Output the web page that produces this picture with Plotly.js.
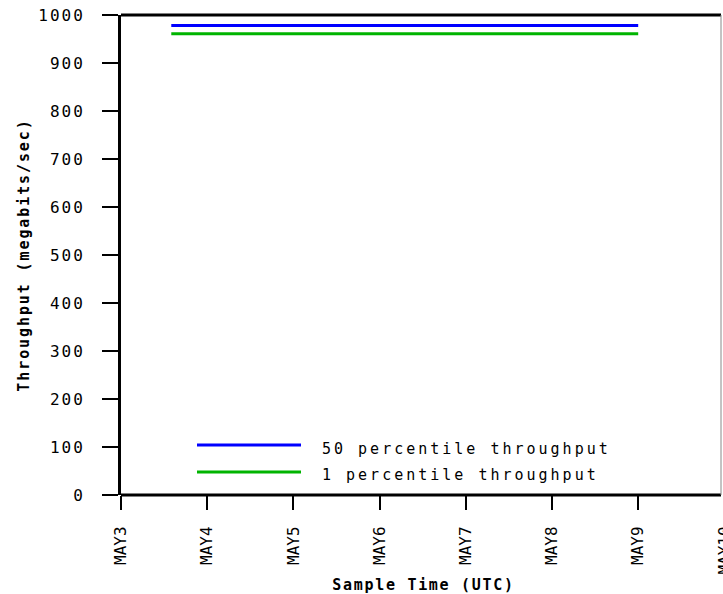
<!DOCTYPE html>
<html>
<head>
<meta charset="utf-8">
<script src="https://cdn.plot.ly/plotly-3.0.1.min.js"></script>
<style>
  html, body { margin: 0; padding: 0; background: #fff; overflow: hidden; }
  #wrap { width: 723px; height: 594px; overflow: hidden; }
  #chart { width: 726px; height: 594px; }
  .ytick text { letter-spacing: 2px; }
  text.xtitle { letter-spacing: 1.7px; }
  text.ytitle { letter-spacing: 1.9px; }
  .annotation-text { letter-spacing: 3px; }
</style>
</head>
<body>
<div id="wrap"><div id="chart"></div></div>
<script>
// ---- data ----
const seriesNames = ["50 percentile throughput", "1 percentile throughput"];
const seriesColors = ["#0000ff", "#00b400"];
const timeStamps = ["2009-05-03 14:00", "2009-05-09 00:00"];
const p50Values = [978, 978];
const p1Values = [961, 961];
const xTickDates = ["2009-05-03", "2009-05-04", "2009-05-05", "2009-05-06",
                    "2009-05-07", "2009-05-08", "2009-05-09", "2009-05-10"];
const xTickLabels = ["MAY3", "MAY4", "MAY5", "MAY6", "MAY7", "MAY8", "MAY9", "MAY10"];
const yTickValues = [0, 100, 200, 300, 400, 500, 600, 700, 800, 900, 1000];

// ---- layout helpers ----
const W = 726, H = 594;
const M = { l: 121, r: 0, t: 15, b: 99 };
const pw = W - M.l - M.r, ph = H - M.t - M.b;
const px2x = px => (px - M.l) / pw;
const px2y = py => (H - M.b - py) / ph;
const rightEdge = px2x(721);

const mono = "DejaVu Sans Mono, Liberation Mono, monospace";

const traces = [
  { x: timeStamps, y: p50Values, name: seriesNames[0], type: "scatter", mode: "lines",
    line: { color: seriesColors[0], width: 3 }, hoverinfo: "skip" },
  { x: timeStamps, y: p1Values, name: seriesNames[1], type: "scatter", mode: "lines",
    line: { color: seriesColors[1], width: 3 }, hoverinfo: "skip" }
];

const legendRows = [445, 472];
const legendTextRows = [449, 475];
const shapes = [
  // top border
  { type: "line", xref: "paper", yref: "paper", x0: 0, x1: rightEdge, y0: 1, y1: 1,
    line: { color: "#000", width: 3 } },
  // bottom border (x axis line)
  { type: "line", xref: "paper", yref: "paper", x0: 0, x1: rightEdge, y0: 0, y1: 0,
    line: { color: "#000", width: 3 } },
  // right border
  { type: "line", xref: "paper", yref: "paper", x0: rightEdge, x1: rightEdge, y0: 0, y1: 1,
    line: { color: "#888", width: 1 } }
];
const annotations = [];
seriesNames.forEach((nm, i) => {
  shapes.push({ type: "line", xref: "paper", yref: "paper",
    x0: px2x(197), x1: px2x(301), y0: px2y(legendRows[i]), y1: px2y(legendRows[i]),
    line: { color: seriesColors[i], width: 3 } });
  annotations.push({ xref: "paper", yref: "paper", x: px2x(320), y: px2y(legendTextRows[i]),
    xanchor: "left", yanchor: "middle", showarrow: false, text: nm,
    font: { family: mono, size: 15, color: "#000" } });
});

// 86.2 px per day: range end from pixel width
const dayPx = 86.2;
const startMs = Date.UTC(2009, 4, 3);
const endMs = startMs + (pw / dayPx) * 86400000;
const fmt = ms => new Date(ms).toISOString().replace("T", " ").slice(0, 19);

const layout = {
  width: W, height: H,
  margin: M,
  paper_bgcolor: "#fff", plot_bgcolor: "#fff",
  showlegend: false,
  xaxis: {
    type: "date",
    range: [fmt(startMs), fmt(endMs)],
    tickmode: "array", tickvals: xTickDates, ticktext: xTickLabels,
    tickangle: -90,
    ticks: "outside", ticklen: 14, tickwidth: 2, tickcolor: "#000",
    ticklabelstandoff: 10,
    ticklabeloverflow: "allow",
    tickfont: { family: mono, size: 16, color: "#000" },
    showgrid: false, zeroline: false,
    showline: false,
    title: { text: "Sample Time (UTC)", standoff: 12,
             font: { family: mono, size: 15, color: "#000", weight: "bold" } },
    fixedrange: true
  },
  yaxis: {
    range: [0, 1000],
    tickmode: "array", tickvals: yTickValues,
    ticks: "outside", ticklen: 16, tickwidth: 2, tickcolor: "#000",
    ticklabelstandoff: 14,
    tickfont: { family: mono, size: 16, color: "#000" },
    showgrid: false, zeroline: false,
    showline: true, linecolor: "#000", linewidth: 3,
    title: { text: "Throughput (megabits/sec)", standoff: 6,
             font: { family: mono, size: 15, color: "#000", weight: "bold" } },
    fixedrange: true
  },
  shapes: shapes,
  annotations: annotations
};

Plotly.newPlot("chart", traces, layout, { displayModeBar: false, staticPlot: true });
</script>
</body>
</html>
